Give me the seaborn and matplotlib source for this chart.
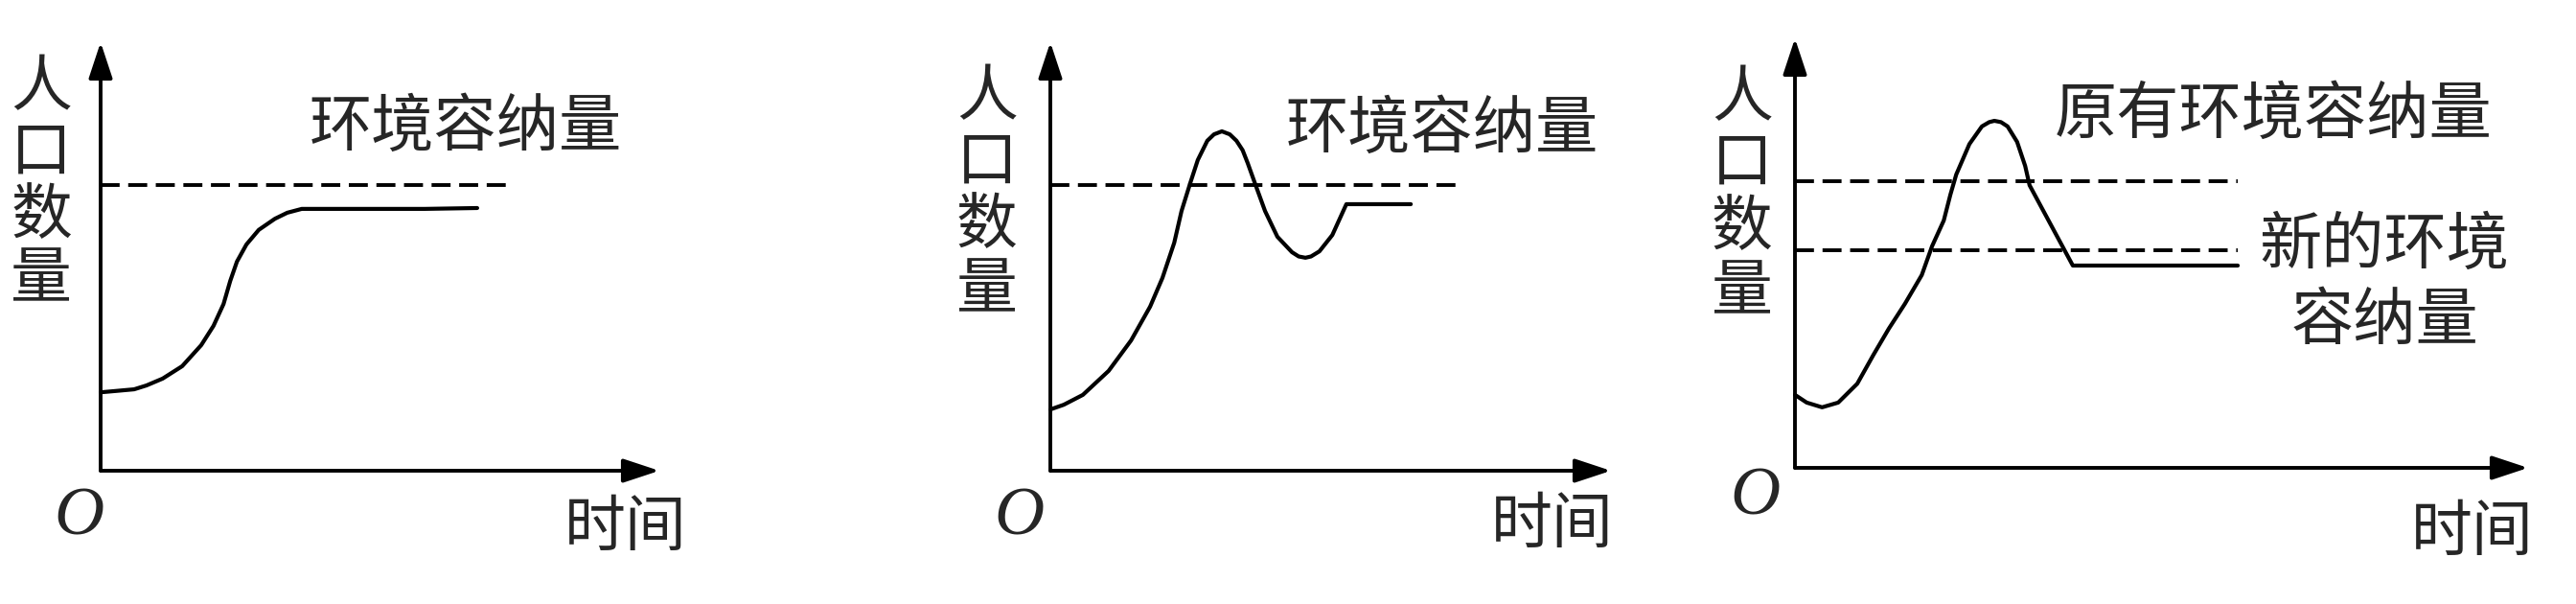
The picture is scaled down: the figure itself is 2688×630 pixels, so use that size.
import matplotlib
matplotlib.use("Agg")
from matplotlib import pyplot as plt
import seaborn as sns
import pandas as pd

# time / population readings for each panel (axes run 0..100 up to the arrow tips)
T1 = [0, 2.6, 6.0, 8.2, 11.1, 14.6, 18.0, 20.2, 22.0, 23.2, 24.4, 26.1, 28.3, 31.2, 33.4, 36.0, 40.3, 58.0, 67.4]
P1 = [18.3, 18.6, 19.0, 19.9, 21.5, 24.4, 29.3, 33.8, 38.9, 44.3, 48.8, 52.8, 56.2, 58.8, 60.2, 61.1, 61.1, 61.1, 61.3]

T2 = [0, 2.4, 5.8, 10.4, 14.4, 17.8, 20.0, 22.1, 23.4, 25.0, 26.3, 28.0, 29.2, 30.6, 32.0, 33.2, 34.3, 35.2, 36.6,
      38.3, 40.5, 43.1, 44.3, 45.5, 46.5, 48.0, 50.3, 52.8, 64.3]
P2 = [14.3, 15.4, 17.7, 23.3, 30.4, 38.3, 45.0, 53.2, 60.6, 67.3, 72.5, 77.0, 78.5, 79.2, 78.5, 77.0, 74.8, 71.8, 66.7,
      60.6, 54.6, 51.0, 50.0, 49.7, 50.0, 51.2, 55.0, 62.2, 62.2]

T3 = [0, 1.6, 3.7, 5.9, 8.5, 10.7, 12.8, 15.0, 17.3, 18.7, 20.3, 21.2, 22.0, 23.8, 25.5, 26.5, 27.2,
      28.1, 29.0, 30.3, 31.4, 32.0, 37.9, 60.4]
P3 = [17.0, 15.2, 14.1, 15.2, 19.6, 26.3, 32.4, 38.2, 44.9, 51.6, 57.6, 63.6, 68.3, 75.4, 79.5, 80.5, 80.8,
      80.5, 79.5, 75.9, 70.3, 65.8, 47.1, 47.1]

# carrying capacity lines: (level, end time)
K1 = [(66.7, 73.8)]
K2 = [(66.7, 73.5)]
K3 = [(66.7, 60.4), (50.7, 60.4)]

Y_LABEL = "人口数量"
X_LABEL = "时间"

sns.set_theme(style="white")
plt.rcParams['font.family'] = ['Noto Sans CJK SC', 'DejaVu Sans']

W, H = 2688, 630
fig = plt.figure(figsize=(W / 100, H / 100), dpi=100)

# pixel frame of each panel: origin x, origin y, x arrow tip, y arrow tip
frames = [(105, 491, 688, 44), (1096, 491, 1681, 44), (1873, 488, 2638, 40)]
curves = [(T1, P1), (T2, P2), (T3, P3)]
klines = [K1, K2, K3]
# label positions in data units
ylab = [(-10.6, [89.3, 74.3, 59.4, 44.5]), (-11.3, [87.0, 72.0, 57.0, 42.0]), (-7.2, [85.9, 70.9, 55.9, 40.9])]
opos = [(-3.9, -11.0), (-5.5, -11.0), (-5.5, -6.9)]
tpos = [(94.0, -13.4), (89.6, -12.8), (92.4, -15.2)]

LW = 2.8
for i, (x0, y0, xt, yt) in enumerate(frames):
    ax = fig.add_axes([x0 / W, (H - y0) / H, (xt - x0) / W, (y0 - yt) / H])
    ax.set_xlim(0, 100)
    ax.set_ylim(0, 100)
    ax.axis('off')

    arrow = dict(arrowstyle='-|>,head_length=1.15,head_width=0.38', lw=LW, color='black',
                 mutation_scale=20, shrinkA=0, shrinkB=0)
    ax.annotate('', xy=(100, 0), xytext=(0, 0), arrowprops=arrow, annotation_clip=False)
    ax.annotate('', xy=(0, 100), xytext=(0, 0), arrowprops=arrow, annotation_clip=False)

    for level, end in klines[i]:
        ax.plot([0, end], [level, level], color='black', lw=LW, dashes=(5.1, 2.3), clip_on=False)

    t, p = curves[i]
    df = pd.DataFrame({'time': t, 'pop': p})
    sns.lineplot(data=df, x='time', y='pop', sort=False, estimator=None, color='black', lw=3.0,
                 ax=ax, clip_on=False, solid_joinstyle='round', solid_capstyle='round')
    ax.set_xlabel('')
    ax.set_ylabel('')

    lx, lys = ylab[i]
    for ch, ly in zip(Y_LABEL, lys):
        ax.text(lx, ly, ch, fontsize=46, ha='center', va='center', clip_on=False)
    ax.text(opos[i][0], opos[i][1], 'O', fontsize=52, family='Liberation Serif', style='italic',
            ha='center', va='center', clip_on=False)
    ax.text(tpos[i][0], tpos[i][1], X_LABEL, fontsize=46, ha='center', va='center', clip_on=False)

    if i == 0:
        ax.text(65.4, 79.9, "环境容纳量", fontsize=47, ha='center', va='center')
    elif i == 1:
        ax.text(69.9, 79.6, "环境容纳量", fontsize=47, ha='center', va='center', clip_on=False)
    else:
        ax.text(65.2, 81.9, "原有环境容纳量", fontsize=47, ha='center', va='center', clip_on=False)
        ax.text(80.4, 51.6, "新的环境", fontsize=47, ha='center', va='center', clip_on=False)
        ax.text(80.4, 33.9, "容纳量", fontsize=47, ha='center', va='center', clip_on=False)

fig.savefig("out.png", dpi=100, facecolor='white')
